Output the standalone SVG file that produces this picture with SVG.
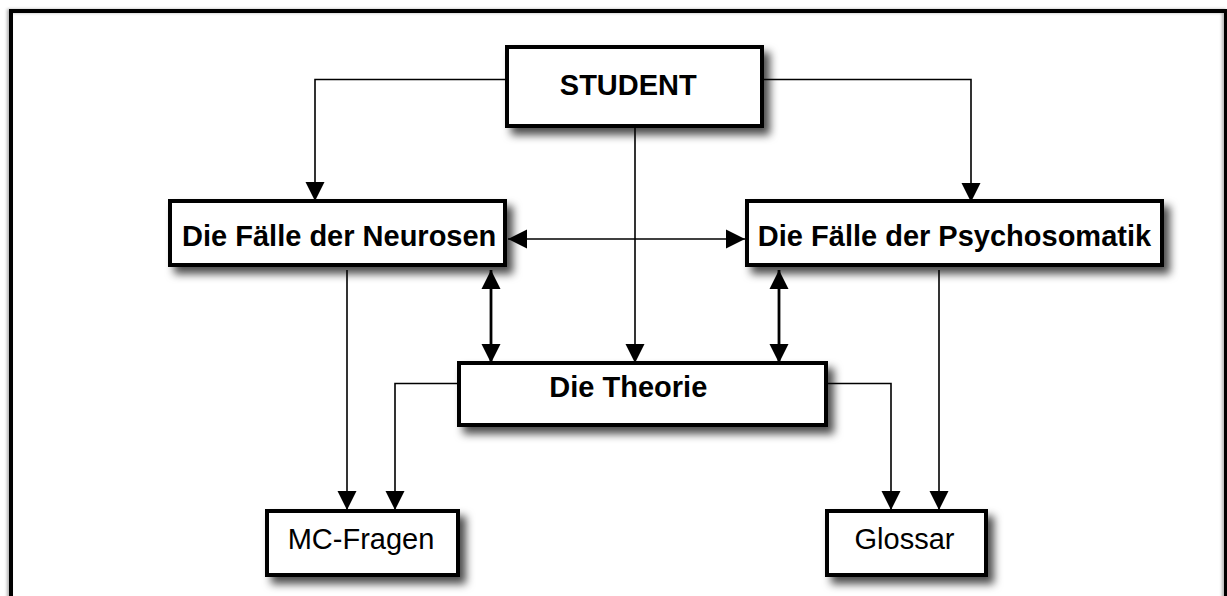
<svg xmlns="http://www.w3.org/2000/svg" width="1227" height="596" viewBox="0 0 1227 596">
  <style>
    .box { fill: #ffffff; stroke: #000000; stroke-width: 4; filter: url(#shadow); }
    .bold { font-family: "Liberation Sans", Arial, sans-serif; font-weight: bold; font-size: 29px; fill: #000000; text-anchor: middle; }
    .reg { font-family: "Liberation Sans", Arial, sans-serif; font-size: 29px; fill: #000000; text-anchor: middle; }
    .line { fill: none; stroke: #000000; stroke-width: 1.6; }
    .thick { fill: none; stroke: #000000; stroke-width: 2.8; }
  </style>
  <defs>
    <filter id="shadow" x="-10%" y="-20%" width="130%" height="170%">
      <feDropShadow dx="6" dy="7" stdDeviation="4.5" flood-color="#000000" flood-opacity="0.7"/>
    </filter>
    <filter id="fshadow" x="-2%" y="-2%" width="104%" height="104%">
      <feDropShadow dx="-2" dy="0" stdDeviation="1.5" flood-color="#000000" flood-opacity="0.3"/>
    </filter>
    <marker id="arr" markerUnits="userSpaceOnUse" markerWidth="20" markerHeight="20" refX="19" refY="10" orient="auto-start-reverse" viewBox="0 0 20 20">
      <path d="M0,0.5 L19,10 L0,19.5 Z" fill="#000000"/>
    </marker>
  </defs>
  <rect width="1227" height="596" fill="#ffffff"/>
  <rect id="frame" x="11" y="11" width="1215" height="600" fill="none" stroke="#000000" stroke-width="4" filter="url(#fshadow)"/>

  <g id="connectors">
    <path class="line" d="M505,79.5 H315 V201" marker-end="url(#arr)"/>
    <path class="line" d="M764,79.5 H971 V202" marker-end="url(#arr)"/>
    <path class="line" d="M635,128 V363" marker-end="url(#arr)"/>
    <path class="line" d="M508,239 H745" marker-start="url(#arr)" marker-end="url(#arr)"/>
    <path class="thick" d="M491,270 V363" marker-start="url(#arr)" marker-end="url(#arr)"/>
    <path class="thick" d="M779,270 V363" marker-start="url(#arr)" marker-end="url(#arr)"/>
    <path class="line" d="M347,270 V510" marker-end="url(#arr)"/>
    <path class="line" d="M457,383.5 H395 V510" marker-end="url(#arr)"/>
    <path class="line" d="M828,383.5 H891 V510" marker-end="url(#arr)"/>
    <path class="line" d="M939,270 V510" marker-end="url(#arr)"/>
  </g>

  <g id="student">
    <rect class="box" x="507" y="47" width="255" height="79"/>
    <text class="bold" x="628.3" y="95">STUDENT</text>
  </g>
  <g id="neurosen">
    <rect class="box" x="170" y="201" width="335" height="64"/>
    <text class="bold" x="339.2" y="245.7">Die Fälle der Neurosen</text>
  </g>
  <g id="psychosomatik">
    <rect class="box" x="747" y="201" width="415" height="64"/>
    <text class="bold" x="954.5" y="246">Die Fälle der Psychosomatik</text>
  </g>
  <g id="theorie">
    <rect class="box" x="459" y="363" width="367" height="62"/>
    <text class="bold" x="628.3" y="397">Die Theorie</text>
  </g>
  <g id="mcfragen">
    <rect class="box" x="267" y="511" width="191" height="64"/>
    <text class="reg" x="361" y="549">MC-Fragen</text>
  </g>
  <g id="glossar">
    <rect class="box" x="827" y="511" width="159" height="64"/>
    <text class="reg" x="904.5" y="549">Glossar</text>
  </g>
</svg>
